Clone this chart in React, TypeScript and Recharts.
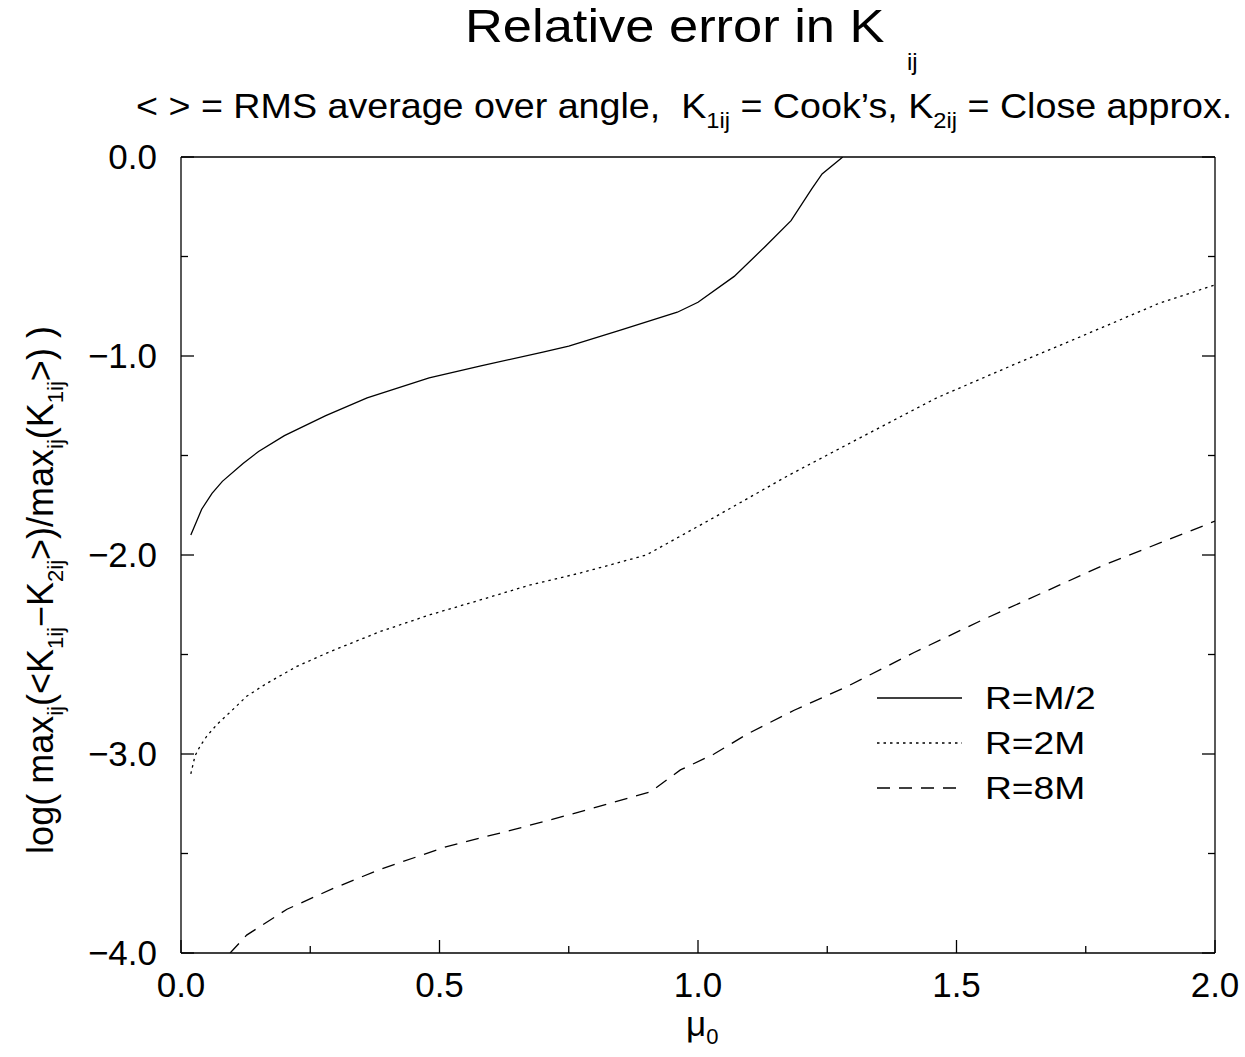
import React from "react";
import { LineChart, Line, XAxis, YAxis } from "recharts";

// R = M/2 (solid)
const muHalf = [0.019, 0.04, 0.06, 0.08, 0.12, 0.15, 0.2, 0.28, 0.36, 0.48, 0.58, 0.7, 0.75, 0.85, 0.96, 1.0, 1.07, 1.13, 1.18, 1.22, 1.24, 1.28];
const errHalf = [-1.9, -1.77, -1.69, -1.63, -1.54, -1.48, -1.4, -1.3, -1.21, -1.11, -1.05, -0.98, -0.95, -0.87, -0.78, -0.73, -0.6, -0.45, -0.32, -0.16, -0.085, 0.0];

// R = 2M (dotted)
const mu2M = [0.019, 0.027, 0.037, 0.05, 0.07, 0.095, 0.127, 0.166, 0.224, 0.288, 0.385, 0.482, 0.579, 0.676, 0.773, 0.9, 1.032, 1.175, 1.318, 1.462, 1.605, 1.748, 1.892, 2.0];
const err2M = [-3.1, -3.01, -2.96, -2.91, -2.85, -2.79, -2.71, -2.645, -2.56, -2.486, -2.385, -2.3, -2.226, -2.15, -2.09, -2.0, -1.81, -1.6, -1.405, -1.21, -1.05, -0.894, -0.735, -0.643];

// R = 8M (dashed)
const mu8M = [0.095, 0.127, 0.205, 0.295, 0.385, 0.514, 0.643, 0.773, 0.908, 0.966, 1.031, 1.095, 1.186, 1.289, 1.418, 1.547, 1.781, 2.0];
const err8M = [-4.0, -3.91, -3.78, -3.675, -3.58, -3.465, -3.38, -3.29, -3.19, -3.08, -3.0, -2.9, -2.78, -2.66, -2.49, -2.33, -2.055, -1.83];

const xTicks = [0, 0.25, 0.5, 0.75, 1.0, 1.25, 1.5, 1.75, 2.0];
const xTickLabels = ["0.0", "", "0.5", "", "1.0", "", "1.5", "", "2.0"];
const yTicks = [-4, -3.5, -3, -2.5, -2, -1.5, -1, -0.5, 0];
const yTickLabels = ["\u22124.0", "", "\u22123.0", "", "\u22122.0", "", "\u22121.0", "", "0.0"];

const zip = (xs: number[], ys: number[]) => xs.map((x, i) => ({ x, y: ys[i] }));

const series = [
  { name: "R=M/2", data: zip(muHalf, errHalf), dash: undefined },
  { name: "R=2M", data: zip(mu2M, err2M), dash: "2.5 4" },
  { name: "R=8M", data: zip(mu8M, err8M), dash: "13 9" },
];

const FONT = "'Liberation Sans', Arial, Helvetica, sans-serif";
const MAJOR = 13;
const MINOR = 7;

const BottomTick = (props: any) => {
  const { x, y, index } = props;
  const label = xTickLabels[index];
  return (
    <g>
      <line x1={x} x2={x} y1={y} y2={y - (label ? MAJOR : MINOR)} stroke="#000" strokeWidth={1.3} />
      {label && (
        <text x={x} y={y + 44} textAnchor="middle" fontSize={35} fontFamily={FONT} fill="#000">
          {label}
        </text>
      )}
    </g>
  );
};

const TopTick = (props: any) => {
  const { x, y, index } = props;
  const len = xTickLabels[index] ? MAJOR : MINOR;
  return <line x1={x} x2={x} y1={y} y2={y + len} stroke="#000" strokeWidth={1.3} />;
};

const LeftTick = (props: any) => {
  const { x, y, index } = props;
  const label = yTickLabels[index];
  return (
    <g>
      <line x1={x} x2={x + (label ? MAJOR : MINOR)} y1={y} y2={y} stroke="#000" strokeWidth={1.3} />
      {label && (
        <text x={x - 24} y={y + 12} textAnchor="end" fontSize={35} fontFamily={FONT} fill="#000">
          {label}
        </text>
      )}
    </g>
  );
};

const RightTick = (props: any) => {
  const { x, y, index } = props;
  const len = yTickLabels[index] ? MAJOR : MINOR;
  return <line x1={x} x2={x - len} y1={y} y2={y} stroke="#000" strokeWidth={1.3} />;
};

const axisLine = { stroke: "#000", strokeWidth: 1.3 };

export default function App() {
  return (
    <div style={{ position: "absolute", left: 0, top: 0, width: 1245, height: 1057, background: "#fff" }}>
      <LineChart width={1245} height={1057} margin={{ top: 147, right: 20, bottom: 44, left: 80 }}>
        <XAxis
          dataKey="x"
          type="number"
          domain={[0, 2]}
          ticks={xTicks}
          interval={0}
          allowDataOverflow
          height={60}
          tickSize={0}
          tickMargin={0}
          tickLine={false}
          axisLine={axisLine}
          tick={<BottomTick />}
        />
        <XAxis
          xAxisId="top"
          orientation="top"
          type="number"
          domain={[0, 2]}
          ticks={xTicks}
          interval={0}
          allowDataOverflow
          height={10}
          tickSize={0}
          tickMargin={0}
          tickLine={false}
          axisLine={axisLine}
          tick={<TopTick />}
        />
        <YAxis
          type="number"
          domain={[-4, 0]}
          ticks={yTicks}
          interval={0}
          allowDataOverflow
          width={101}
          tickSize={0}
          tickMargin={0}
          tickLine={false}
          axisLine={axisLine}
          tick={<LeftTick />}
        />
        <YAxis
          yAxisId="right"
          orientation="right"
          type="number"
          domain={[-4, 0]}
          ticks={yTicks}
          interval={0}
          allowDataOverflow
          width={10}
          tickSize={0}
          tickMargin={0}
          tickLine={false}
          axisLine={axisLine}
          tick={<RightTick />}
        />
        {series.map((s) => (
          <Line
            key={s.name}
            data={s.data}
            dataKey="y"
            name={s.name}
            type="linear"
            stroke="#000"
            strokeWidth={1.3}
            strokeDasharray={s.dash}
            dot={false}
            activeDot={false}
            isAnimationActive={false}
          />
        ))}
      </LineChart>

      <svg
        width={1245}
        height={1057}
        style={{ position: "absolute", left: 0, top: 0, pointerEvents: "none" }}
        fontFamily={FONT}
        fill="#000"
      >
        {/* title */}
        <g transform="translate(465,42) scale(1.14,1)">
          <text x={0} y={0} fontSize={46}>
            Relative error in K
          </text>
        </g>
        <text x={907} y={70} fontSize={24}>
          ij
        </text>

        {/* subtitle */}
        <g transform="translate(136,118) scale(1.076,1)">
          <text x={0} y={0} fontSize={35} style={{ whiteSpace: "pre" }}>
            {"< > = RMS average over angle,  K"}
            <tspan fontSize={22} dy={10}>1ij</tspan>
            <tspan dy={-10}>{" = Cook\u2019s, K"}</tspan>
            <tspan fontSize={22} dy={10}>2ij</tspan>
            <tspan dy={-10}>{" = Close approx."}</tspan>
          </text>
        </g>

        {/* y label */}
        <text transform="translate(53,590) rotate(-90)" textAnchor="middle" fontSize={36}>
          {"log( max"}
          <tspan fontSize={22} dy={10}>ij</tspan>
          <tspan dy={-10}>{"(<K"}</tspan>
          <tspan fontSize={22} dy={10}>1ij</tspan>
          <tspan dy={-10}>{"\u2212K"}</tspan>
          <tspan fontSize={22} dy={10}>2ij</tspan>
          <tspan dy={-10}>{">)/max"}</tspan>
          <tspan fontSize={22} dy={10}>ij</tspan>
          <tspan dy={-10}>{"(K"}</tspan>
          <tspan fontSize={22} dy={10}>1ij</tspan>
          <tspan dy={-10}>{">) )"}</tspan>
        </text>

        {/* x label */}
        <text x={686} y={1036} fontSize={35}>
          {"\u03bc"}
          <tspan fontSize={22} dy={8}>0</tspan>
        </text>

        {/* legend */}
        {series.map((s, i) => (
          <g key={s.name} transform={`translate(877,${698 + i * 45})`}>
            <line x1={0} x2={85} y1={0} y2={0} stroke="#000" strokeWidth={1.3} strokeDasharray={s.dash} />
            <g transform="translate(108,11) scale(1.2,1)">
              <text x={0} y={0} fontSize={31}>
                {s.name}
              </text>
            </g>
          </g>
        ))}
      </svg>
    </div>
  );
}
